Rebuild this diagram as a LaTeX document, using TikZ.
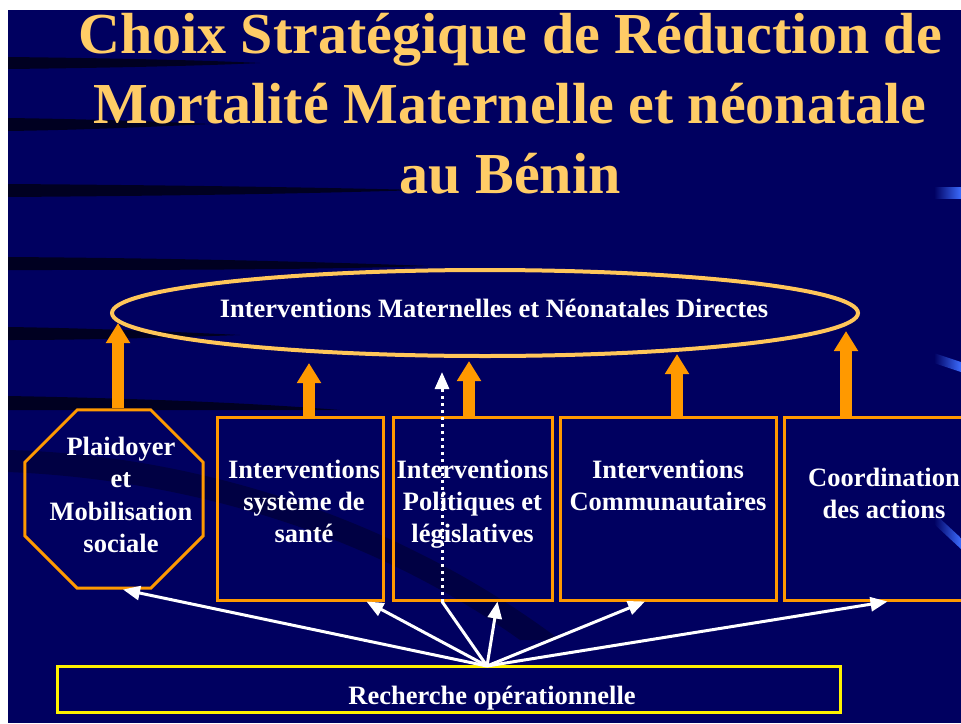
\documentclass[tikz,border=0pt]{standalone}
\usepackage{fontspec}
\setmainfont{Liberation Serif}
\usetikzlibrary{shapes.geometric,arrows.meta,positioning}

\definecolor{navy}{HTML}{000060}
\definecolor{gold}{HTML}{FFCC66}
\definecolor{boxorange}{HTML}{FF9900}
\definecolor{ringgold}{HTML}{FFC65A}
\definecolor{streakblue}{HTML}{3C6CFF}

\begin{document}
\begin{tikzpicture}[x=1pt, y=-1pt,
    % node attributes
    frame/.style = {draw=boxorange, line width=3pt, rectangle,
        minimum height=183pt, inner sep=0pt},
    lbl/.style = {text=white, align=center, inner sep=0pt,
        font=\fontsize{26.5}{32.3}\selectfont\bfseries},
    % connectors
    uparrow/.style = {boxorange, line width=12pt,
        -{Triangle[width=23pt,length=20pt]}},
    wline/.style = {white, line width=3pt},
    warrow/.style = {wline, -{Triangle[width=14pt,length=17pt]}},
    swoosh/.style = {fill=black, opacity=.65}]
    % slide background
    \useasboundingbox (0,0) rectangle (961,723);
    \clip (0,0) rectangle (961,723);
    \fill[white] (0,0) rectangle (961,723);
    \fill[navy] (8,10) rectangle (961,723);
    \fill[swoosh] (8,57) .. controls (100,58) and (200,60) .. (260,63) .. controls (200,66) and (100,68) .. (8,69) -- cycle;
    \fill[swoosh] (8,118) .. controls (80,119) and (150,121) .. (210,124) .. controls (150,127) and (80,130) .. (8,131) -- cycle;
    \fill[swoosh] (8,184) .. controls (150,185) and (300,187) .. (420,190) .. controls (300,194) and (150,196) .. (8,197) -- cycle;
    \fill[swoosh] (8,257) .. controls (150,258) and (300,261) .. (430,266) .. controls (300,270) and (150,270) .. (8,270) -- cycle;
    \fill[swoosh] (8,327) .. controls (80,328) and (160,331) .. (240,335) .. controls (160,338) and (80,340) .. (8,340) -- cycle;
    \fill[swoosh] (8,396) .. controls (120,398) and (240,402) .. (340,410) .. controls (240,410) and (120,410) .. (8,410) -- cycle;
    \fill[black, opacity=.3] (8,450) .. controls (200,455) and (400,520) .. (560,640) -- (520,640) .. controls (380,540) and (200,480) .. (8,472) -- cycle;
    \shade[left color=navy, right color=streakblue] (934,187) rectangle (961,198);
    \shade[left color=navy, right color=streakblue] (934,353) -- (961,362) -- (961,372) -- (934,363) -- cycle;
    \shade[left color=navy, right color=streakblue] (934,513) -- (961,538) -- (961,549) -- (934,524) -- cycle;

    % title
    \node[text=gold, align=center, inner sep=0pt, anchor=north,
        font=\fontsize{58}{70}\selectfont\bfseries] (title) at (510,13)
        {Choix Stratégique de Réduction de\\Mortalité Maternelle et néonatale\\au Bénin};

    % target ellipse
    \node[ellipse, draw=ringgold, line width=4pt, minimum width=746pt,
        minimum height=86pt, inner sep=0pt] (ell) at (485,313) {};
    \node[lbl, anchor=base] (elltxt) at (494,317)
        {Interventions Maternelles et Néonatales Directes};

    % strategy blocks
    \node[regular polygon, regular polygon sides=8, draw=boxorange,
        line width=3pt, minimum size=192.7pt, inner sep=0pt] (plaid) at (114,499) {};
    \node[lbl, anchor=north] (plaidtxt) at (121,437) {Plaidoyer\\et\\Mobilisation\\sociale};
    \node[frame, minimum width=166pt] (sante) at (300,508.5) {};
    \node[lbl, below=44pt of sante.north, xshift=4pt] (santetxt) {Interventions\\système de\\santé};
    \node[frame, minimum width=159pt] (polit) at (472.5,508.5) {};
    \node[lbl, below=44pt of polit.north] (polittxt) {Interventions\\Politiques et\\législatives};
    \node[frame, minimum width=216pt] (commu) at (668,508.5) {};
    \node[lbl, below=44pt of commu.north] (commutxt) {Interventions\\Communautaires};
    \node[frame, minimum width=200pt] (coord) at (884,508.5) {};
    \node[lbl, below=52pt of coord.north] (coordtxt) {Coordination\\des actions};

    % research base
    \node[rectangle, draw=yellow, line width=3pt, minimum width=783pt,
        minimum height=46pt, inner sep=0pt] (rech) at (448.5,689.5) {};
    \node[lbl, anchor=base] (rechtxt) at (492,704) {Recherche opérationnelle};

    % arrow ends
    \coordinate (t1) at (118,323);
    \coordinate (t2) at (309,363);
    \coordinate (t3) at (469,361);
    \coordinate (t4) at (677,354);
    \coordinate (t5) at (846,331);
    \coordinate (dt) at (442,372);
    \coordinate (src) at (487,666);

    % orange arrows to the ellipse
    \draw[uparrow] (plaid.north -| t1) -- (t1);
    \draw[uparrow] (sante.north -| t2) -- (t2);
    \draw[uparrow] (polit.north -| t3) -- (t3);
    \draw[uparrow] (commu.north -| t4) -- (t4);
    \draw[uparrow] (coord.north -| t5) -- (t5);

    % white arrows from research
    \draw[warrow] (src) -- ([xshift=9pt]plaid.south);
    \draw[warrow] (src) -- ([xshift=-18pt]sante.south east);
    \draw[wline] (src) -- (polit.south -| dt);
    \draw[wline, dash pattern=on 3pt off 4pt, -{Triangle[width=14pt,length=17pt]}]
        (polit.south -| dt) -- (dt);
    \draw[warrow] (src) -- ([xshift=25pt]polit.south);
    \draw[warrow] (src) -- ([xshift=-23pt]commu.south);
    \draw[warrow] (src) -- ([xshift=105pt]coord.south west);
\end{tikzpicture}
\end{document}
